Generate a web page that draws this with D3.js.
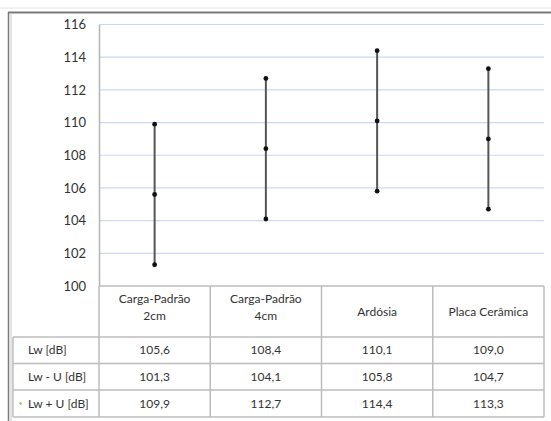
<!DOCTYPE html>
<html>
<head>
<meta charset="utf-8">
<script src="https://cdn.jsdelivr.net/npm/d3@7"></script>
<style>
  body { margin: 0; background: #fff; }
  svg { display: block; font-family: Lato, "Open Sans", sans-serif; }
</style>
</head>
<body>
<svg id="chart" width="551" height="421"></svg>
<script>
// categories (header lines) and series
const categories = [["Carga-Padrão", "2cm"], ["Carga-Padrão", "4cm"], ["Ardósia"], ["Placa Cerâmica"]];
const lw = [105.6, 108.4, 110.1, 109.0];
const lwMinusU = [101.3, 104.1, 105.8, 104.7];
const lwPlusU = [109.9, 112.7, 114.4, 113.3];
const rowLabels = ["Lw [dB]", "Lw - U [dB]", "Lw + U [dB]"];
const yTicks = [100, 102, 104, 106, 108, 110, 112, 114, 116];

const svg = d3.select("#chart");
const plotL = 99, plotR = 544, plotT = 24.5, plotB = 286;
const rowY = [337, 363.5, 390, 417];
const fmt = (v) => d3.format(".1f")(v).replace(".", ",");

// outer frame
svg.append("line").attr("x1", 0).attr("x2", 551).attr("y1", 8).attr("y2", 8)
  .attr("stroke", "#e2e2e2").attr("stroke-width", 1);
svg.append("line").attr("x1", 8).attr("x2", 551).attr("y1", 12.5).attr("y2", 12.5)
  .attr("stroke", "#7a7a7a").attr("stroke-width", 2);
svg.append("line").attr("x1", 8.5).attr("x2", 8.5).attr("y1", 12).attr("y2", 421)
  .attr("stroke", "#7a7a7a").attr("stroke-width", 1.5);
svg.append("line").attr("x1", 11).attr("x2", 11).attr("y1", 13).attr("y2", 421)
  .attr("stroke", "#c8c8c8").attr("stroke-width", 1);

const x = d3.scaleBand().domain(d3.range(categories.length)).range([plotL, plotR]);
const y = d3.scaleLinear().domain([100, 116]).range([plotB, plotT]);

// gridlines
svg.append("g").selectAll("line")
  .data(yTicks.filter((t) => t > 100))
  .enter().append("line")
  .attr("x1", plotL).attr("x2", plotR)
  .attr("y1", (d) => y(d)).attr("y2", (d) => y(d))
  .attr("stroke", "#c9d9f2").attr("stroke-width", 1.2);

// y axis
const yAxis = d3.axisLeft(y).tickValues(yTicks).tickSize(0).tickPadding(13);
const gY = svg.append("g").attr("transform", `translate(${plotL},0)`).call(yAxis);
gY.select(".domain").attr("stroke", "#b5b5b5").attr("stroke-width", 1.5);
gY.selectAll("text").attr("fill", "#333").style("font-size", "13px")
  .style("font-family", "Lato, sans-serif");

// data table lines
const tbl = svg.append("g").attr("stroke", "#bcbcbc").attr("stroke-width", 1.5);
tbl.append("line").attr("x1", plotL).attr("x2", plotR).attr("y1", plotB).attr("y2", plotB);
rowY.forEach((ry) => {
  tbl.append("line").attr("x1", 13).attr("x2", plotR).attr("y1", ry).attr("y2", ry);
});
tbl.append("line").attr("x1", 13).attr("x2", 13).attr("y1", rowY[0]).attr("y2", rowY[3]);
d3.range(categories.length + 1).forEach((i) => {
  const xx = i < categories.length ? x(i) : plotR;
  tbl.append("line").attr("x1", xx).attr("x2", xx).attr("y1", plotB).attr("y2", rowY[3]);
});

// header texts
categories.forEach((lines, i) => {
  const cx = x(i) + x.bandwidth() / 2;
  const t = svg.append("text").attr("x", cx).attr("text-anchor", "middle")
    .attr("fill", "#333").style("font-size", "12px");
  const y0 = lines.length === 2 ? 303 : 316;
  lines.forEach((l, k) => {
    t.append("tspan").attr("x", cx).attr("y", y0 + k * 17).text(l);
  });
});

// row labels and values
const rows = [lw, lwMinusU, lwPlusU];
rows.forEach((vals, r) => {
  const cy = (rowY[r] + rowY[r + 1]) / 2 + 4;
  svg.append("text").attr("x", 28).attr("y", cy).attr("fill", "#333")
    .style("font-size", "12px").text(rowLabels[r]);
  vals.forEach((v, i) => {
    svg.append("text").attr("x", x(i) + x.bandwidth() / 2).attr("y", cy)
      .attr("text-anchor", "middle").attr("fill", "#333")
      .style("font-size", "12px").text(fmt(v));
  });
});
// legend key dot
svg.append("circle").attr("cx", 20.5).attr("cy", (rowY[2] + rowY[3]) / 2)
  .attr("r", 1.2).attr("fill", "#9bbb59");

// error bars
const cxOf = (i) => x(i) + x.bandwidth() / 2;
svg.append("g").selectAll("line")
  .data(categories.map((c, i) => i))
  .enter().append("line")
  .attr("x1", cxOf).attr("x2", cxOf)
  .attr("y1", (i) => y(lwPlusU[i])).attr("y2", (i) => y(lwMinusU[i]))
  .attr("stroke", "#555").attr("stroke-width", 2);

const pts = [];
categories.forEach((c, i) => {
  [lwMinusU[i], lw[i], lwPlusU[i]].forEach((v) => pts.push({ i, v }));
});
svg.append("g").selectAll("circle")
  .data(pts).enter().append("circle")
  .attr("cx", (d) => cxOf(d.i)).attr("cy", (d) => y(d.v))
  .attr("r", 2.4).attr("fill", "#111");
</script>
</body>
</html>
